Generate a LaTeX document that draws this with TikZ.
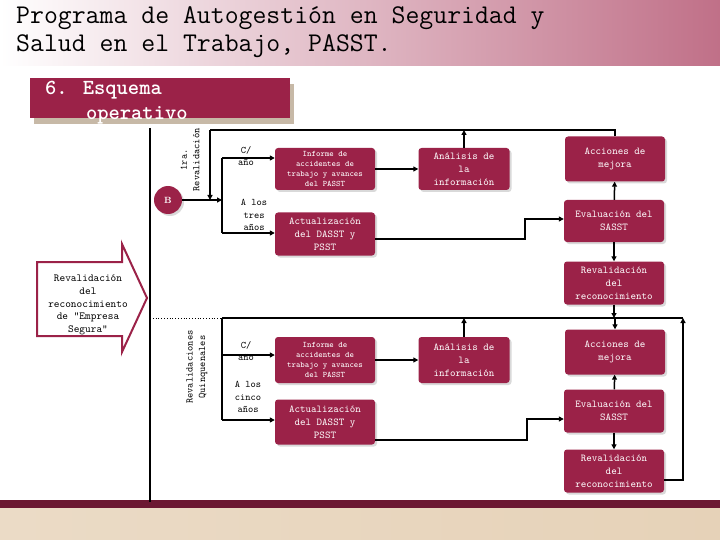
\documentclass[tikz,border=0pt]{standalone}
\usepackage{fontspec}
\usetikzlibrary{arrows.meta,shadows}
\definecolor{mar}{HTML}{9B2248}
\definecolor{pinkr}{HTML}{C07088}
\definecolor{beige}{HTML}{E6D2B8}
\begin{document}
\begin{tikzpicture}[x=1pt,y=-1pt,
  box/.style={draw=none,fill=mar,rounded corners=3pt,text=white,font=\ttfamily\fontsize{10.5}{13}\selectfont,align=center,inner sep=1pt,drop shadow={shadow xshift=2pt,shadow yshift=-2pt,fill=black!15,opacity=1}},
  small/.style={font=\ttfamily\fontsize{8.4}{10}\selectfont},
  lbl/.style={font=\ttfamily\fontsize{10}{12.5}\selectfont,align=center,inner sep=1pt},
  ln/.style={line width=1.5pt},
  arr/.style={line width=1.5pt,-{Triangle[length=5pt,width=5pt]}}]
\useasboundingbox (0,0) rectangle (720,540);
% header
\shade[left color=white,right color=pinkr] (0,0) rectangle (720,66);
\node[anchor=west,font=\ttfamily\fontsize{27}{28}\selectfont,align=left,inner sep=0] (title) at (16,32) {Programa de Autogestión en Seguridad y\\Salud en el Trabajo, PASST.};
% bottom band
\fill[mar!70!black] (0,500) rectangle (720,508);
\shade[left color=beige!80!white,right color=beige] (0,508) rectangle (720,540);
% banner
\fill[beige!70!gray] (34,84) rectangle (294,124);
\fill[mar] (30,78) rectangle (290,118);
\node[anchor=north west,font=\ttfamily\bfseries\fontsize{21.5}{25}\selectfont,text=white,align=left,inner sep=0] (ban) at (45,81) {6. Esquema\\\hspace*{1.9em}operativo};
% big arrow
\draw[draw=mar,line width=2pt,fill=white] (37,262) -- (122,262) -- (122,244) -- (147,298) -- (122,352) -- (122,336) -- (37,336) -- cycle;
\node[lbl,font=\ttfamily\fontsize{10.8}{12.8}\selectfont] (bigtxt) at (88,305) {Revalidación\\del\\reconocimiento\\de "Empresa\\Segura"};
% left vertical
\draw[line width=2pt] (150,128) -- (150,502);
% B
\node[circle,fill=mar,minimum size=28pt,text=white,font=\bfseries\small,drop shadow={shadow xshift=2pt,shadow yshift=-2pt,fill=black!15,opacity=1}] (B) at (168,200) {B};
\node[lbl,rotate=90] (r1) at (190,160) {1ra.\\Revalidación};
\node[lbl,rotate=90] (r2) at (197,367) {Revalidaciones\\Quinquenales};
% top boxes
\node[box,small,minimum width=100pt,minimum height=42pt] (inf1) at (325,169) {Informe de\\accidentes de\\trabajo y avances\\del PASST};
\node[box,minimum width=91pt,minimum height=42pt] (ana1) at (464,169) {Análisis de\\la\\información};
\node[box,minimum width=100pt,minimum height=43pt] (act1) at (325,234) {Actualización\\del DASST y\\PSST};
\node[box,minimum width=100pt,minimum height=45pt] (acc1) at (615,159) {Acciones de\\mejora};
\node[box,minimum width=100pt,minimum height=42pt] (eva1) at (614,221) {Evaluación del\\SASST};
\node[box,minimum width=100pt,minimum height=43pt] (rev1) at (614,283) {Revalidación\\del\\reconocimiento};
\node[lbl] (c1) at (246,156) {C/\\año};
\node[lbl] (t1) at (254,215) {A los\\tres\\años};
% bottom boxes
\node[box,small,minimum width=100pt,minimum height=46pt] (inf2) at (325,360) {Informe de\\accidentes de\\trabajo y avances\\del PASST};
\node[box,minimum width=91pt,minimum height=46pt] (ana2) at (464,360) {Análisis de\\la\\información};
\node[box,minimum width=100pt,minimum height=45pt] (act2) at (325,422) {Actualización\\del DASST y\\PSST};
\node[box,minimum width=100pt,minimum height=45pt] (acc2) at (615,352) {Acciones de\\mejora};
\node[box,minimum width=100pt,minimum height=43pt] (eva2) at (614,411) {Evaluación del\\SASST};
\node[box,minimum width=100pt,minimum height=43pt] (rev2) at (614,471) {Revalidación\\del\\reconocimiento};
\node[lbl] (c2) at (246,351) {C/\\año};
\node[lbl] (t2) at (248,397) {A los\\cinco\\años};
% coordinates
\coordinate (j1) at (222,200);
\coordinate (j2) at (222,318);
\coordinate (tl) at (210,130);
\coordinate (d0) at (150,318);
\coordinate (rr) at (683,318);
% top connections
\draw[arr] (B) -- (j1);
\draw[ln] (222,158) -- (222,233);
\draw[arr] (222,158) -- (inf1.west |- 0,158);
\draw[arr] (222,233) -- (act1.west |- 0,233);
\draw[arr] (inf1) -- (ana1);
\draw[arr] (ana1.north) -- (ana1.north |- tl);
\draw[ln] (acc1.north) -- (acc1.north |- tl) -- (tl);
\draw[arr] (tl) -- (210,200);
\draw[arr] (act1.east |- 0,239) -- (525,239) -- (525,219) -- (eva1.west |- 0,219);
\draw[arr] (eva1) -- (acc1);
\draw[arr] (eva1) -- (rev1);
% middle
\draw[dotted,thick] (d0) -- (j2);
\draw[ln] (j2) -- (rr);
\draw[arr] (rev1) -- (rev1.south |- rr);
% bottom connections
\draw[ln] (j2) -- (222,420);
\draw[arr] (222,355) -- (inf2.west |- 0,355);
\draw[arr] (222,420) -- (act2.west |- 0,420);
\draw[arr] (inf2) -- (ana2);
\draw[arr] (ana2.north) -- (ana2.north |- rr);
\draw[arr] (acc2.north |- rr) -- (acc2.north);
\draw[arr] (act2.east |- 0,440) -- (527,440) -- (527,419) -- (eva2.west |- 0,419);
\draw[arr] (eva2) -- (acc2);
\draw[arr] (eva2) -- (rev2);
\draw[arr] (rev2.east |- 0,480) -- (683,480) -- (rr);
\end{tikzpicture}
\end{document}
